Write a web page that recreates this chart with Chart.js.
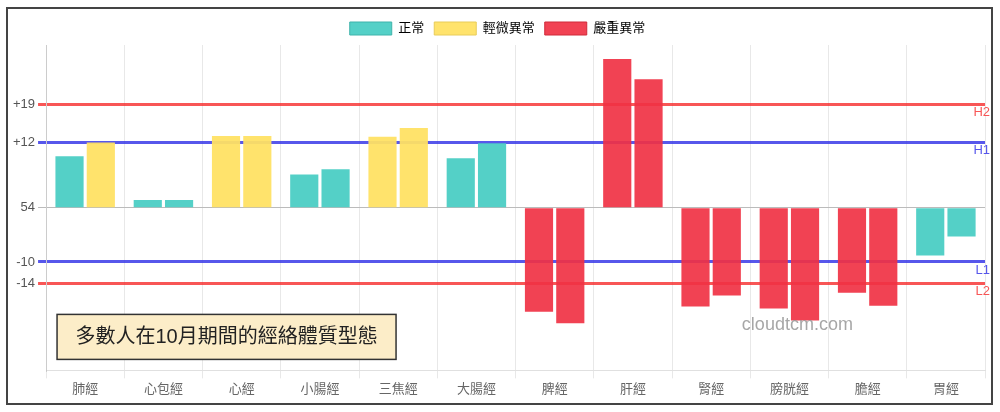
<!DOCTYPE html>
<html lang="zh-Hant">

<head>
    <meta charset="UTF-8">
    <meta name="viewport" content="width=device-width, initial-scale=1.0">
    <title>經絡體質型態</title>
    <script src="https://cdn.jsdelivr.net/npm/chart.js"></script>
    <style>
        html, body { margin: 0; padding: 0; background: #fff; }
        #frame {
            position: absolute;
            left: 6px;
            top: 7px;
            width: 983px;
            height: 394px;
            border: 2px solid #444;
            background: #fff;
        }
    </style>
</head>

<body>
    <div id="frame">
        <canvas id="myChart"></canvas>
    </div>
</body>

<script>

    const categories = ['肺經', '心包經', '心經', '小腸經', '三焦經', '大腸經', '脾經', '肝經', '腎經', '膀胱經', '膽經', '胃經']
    const series1 = [9.5, 1.4, 13.2, 6.1, 13.1, 9.1, -19.2, 27.4, -18.2, -18.6, -15.7, -8.8]
    const series2 = [12, 1.4, 13.2, 7.1, 14.7, 11.9, -21.3, 23.7, -16.2, -20.8, -18.1, -5.3]

    const yTickValues = [19, 12, 0, -10, -14]
    const yTickLabels = ['+19', '+12', '54', '-10', '-14']
    const limitNames = { 19: 'H2', 12: 'H1', '-10': 'L1', '-14': 'L2' }

    const legendNames = ['正常', '輕微異常', '嚴重異常']

    const FONT = "'Liberation Sans', 'Noto Sans CJK TC', sans-serif"
    Chart.defaults.font.family = FONT
    Chart.defaults.color = '#666'

    const TEAL = 'rgba(75, 205, 196, 0.95)'
    const YELLOW = 'rgba(255, 226, 100, 0.95)'
    const RED = 'rgba(240, 50, 68, 0.92)'
    const BLUE_LINE = 'rgba(45, 45, 230, 0.8)'
    const RED_LINE = 'rgba(245, 30, 30, 0.75)'

    function barColor(v) {
        if (v >= 19 || v <= -14) return RED
        if (v >= 12 || v <= -10) return YELLOW
        return TEAL
    }

    function lineColor(v) {
        if (v === 19 || v === -14) return RED_LINE
        if (v === 12 || v === -10) return BLUE_LINE
        return '#bbb'
    }

    // labels, caption box and watermark
    const extras = {
        id: 'extras',
        afterDatasetsDraw(chart) {
            const { ctx, chartArea } = chart
            ctx.save()
            ctx.font = '18px ' + FONT
            ctx.fillStyle = 'rgba(150, 150, 150, 0.85)'
            ctx.textAlign = 'center'
            ctx.textBaseline = 'middle'
            ctx.fillText('cloudtcm.com', chart.scales.x.getPixelForValue(9) + 8, chartArea.bottom - 45)
            ctx.restore()
        },
        afterDraw(chart) {
            const { ctx, chartArea } = chart
            const y = chart.scales.y
            ctx.save()
            ctx.font = '13px ' + FONT
            ctx.textAlign = 'right'
            ctx.textBaseline = 'middle'
            yTickValues.forEach(v => {
                if (!limitNames[v]) return
                ctx.fillStyle = lineColor(v)
                ctx.fillText(limitNames[v], chartArea.right + 5, y.getPixelForValue(v) + 8)
            })

            const bx = chartArea.left + 11, by = chartArea.bottom - 56
            const bw = 339, bh = 45
            ctx.fillStyle = '#fcedc8'
            ctx.fillRect(bx, by, bw, bh)
            ctx.lineWidth = 1.5
            ctx.strokeStyle = '#333'
            ctx.strokeRect(bx, by, bw, bh)
            ctx.fillStyle = '#222'
            ctx.font = '20px ' + FONT
            ctx.textAlign = 'center'
            ctx.fillText('多數人在10月期間的經絡體質型態', bx + bw / 2, by + bh / 2 + 1)
            ctx.restore()
        }
    }

    const chart = new Chart(
        document.getElementById('myChart'),
        {
            type: 'bar',
            data: {
                labels: categories,
                datasets: [{
                    label: 'series1',
                    data: series1,
                    backgroundColor: c => barColor(c.raw),
                    borderWidth: 0
                }, {
                    label: 'series2',
                    data: series2,
                    backgroundColor: c => barColor(c.raw),
                    borderWidth: 0
                }]
            },
            options: {
                responsive: true,
                maintainAspectRatio: false,
                animation: false,
                layout: { padding: { left: 2, right: 6, top: 3, bottom: 3 } },
                plugins: {
                    tooltip: { enabled: false },
                    legend: {
                        labels: {
                            boxWidth: 42,
                            boxHeight: 13,
                            font: { size: 13 },
                            color: '#666',
                            generateLabels: () => legendNames.map((name, i) => ({
                                text: name,
                                fillStyle: [TEAL, YELLOW, RED][i],
                                strokeStyle: ['#3fb3ab', '#e8cc5a', '#cf2a3a'][i],
                                lineWidth: 1,
                                hidden: false,
                                datasetIndex: i
                            }))
                        }
                    }
                },
                scales: {
                    x: {
                        grid: { color: 'rgba(0,0,0,0.09)' },
                        border: { color: 'rgba(0,0,0,0.12)' },
                        ticks: { font: { size: 13 }, color: '#666' }
                    },
                    y: {
                        min: -30,
                        max: 30,
                        z: 1,
                        afterBuildTicks: axis => {
                            axis.ticks = yTickValues.map(v => ({ value: v }))
                        },
                        grid: {
                            color: c => lineColor(c.tick.value),
                            lineWidth: c => c.tick.value === 0 ? 1 : 3
                        },
                        border: { color: 'rgba(0,0,0,0.12)' },
                        ticks: {
                            font: { size: 13 },
                            color: '#555',
                            callback: (v) => yTickLabels[yTickValues.indexOf(v)]
                        }
                    }
                }
            },
            plugins: [extras]
        });

</script>

</html>
